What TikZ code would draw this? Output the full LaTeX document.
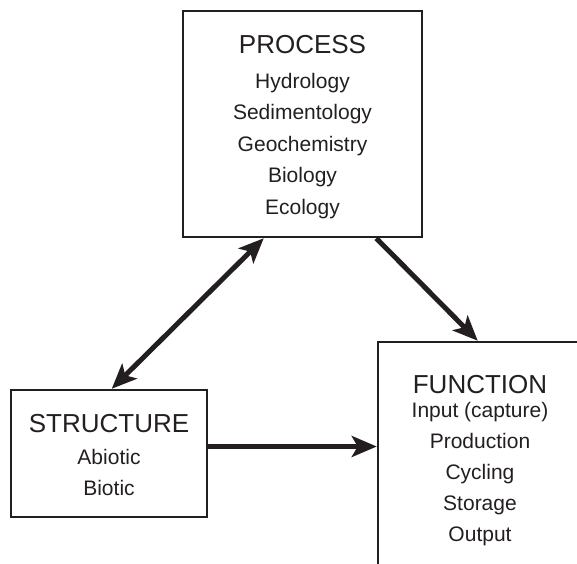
\documentclass[tikz,border=0pt]{standalone}
\usepackage{fontspec}
\setmainfont{Liberation Sans}
\usetikzlibrary{arrows.meta}
\definecolor{ink}{HTML}{231F20}
\begin{document}
\begin{tikzpicture}[x=1pt,y=-1pt,
  box/.style={draw=ink,line width=2.5pt,inner sep=0pt},
  title/.style={anchor=base,text=ink,font=\fontsize{26}{30}\selectfont,inner sep=0pt},
  item/.style={anchor=base,text=ink,font=\fontsize{21}{25}\selectfont,inner sep=0pt},
  conn/.style={draw=ink,line width=5pt,-{Stealth[length=25pt,width=21pt,inset=6pt]}},
  bconn/.style={draw=ink,line width=5pt,{Stealth[length=25pt,width=21pt,inset=6pt]}-{Stealth[length=25pt,width=21pt,inset=6pt]}}]
\useasboundingbox (0,0) rectangle (577,563);
\begin{scope}
\clip (0,0) rectangle (577,563);
\node[box,minimum width=239pt,minimum height=226pt] (proc) at (302.5,124) {};
\node[box,minimum width=196pt,minimum height=127pt] (str) at (109,453.5) {};
\node[box,minimum width=206pt,minimum height=280pt] (func) at (481,482) {};
\end{scope}
% texts
\node[title] (pt) at (302.5,53) {PROCESS};
\node[item] (p1) at (302.5,88) {Hydrology};
\node[item] (p2) at (302.5,119.5) {Sedimentology};
\node[item] (p3) at (302.5,151) {Geochemistry};
\node[item] (p4) at (302.5,182.5) {Biology};
\node[item] (p5) at (302.5,214) {Ecology};
\node[title] (st) at (109,432) {STRUCTURE};
\node[item] (s1) at (109,464) {Abiotic};
\node[item] (s2) at (109,495) {Biotic};
\node[title] (ft) at (480,393) {FUNCTION};
\node[item] (f1) at (480,417) {Input (capture)};
\node[item] (f2) at (480,448) {Production};
\node[item] (f3) at (480,479) {Cycling};
\node[item] (f4) at (480,510) {Storage};
\node[item] (f5) at (480,541) {Output};
% connectors
\coordinate (a1) at ([xshift=102pt]str.north west);
\coordinate (a2) at ([xshift=82pt]proc.south west);
\draw[bconn] (a1) -- (a2);
\coordinate (b1) at ([xshift=-47pt]proc.south east);
\coordinate (b2) at ([xshift=101pt]func.north west);
\draw[conn] (b1) -- (b2);
\coordinate (c1) at ([yshift=7pt]str.east);
\draw[conn] (c1) -- (c1 -| func.west);
\end{tikzpicture}
\end{document}
